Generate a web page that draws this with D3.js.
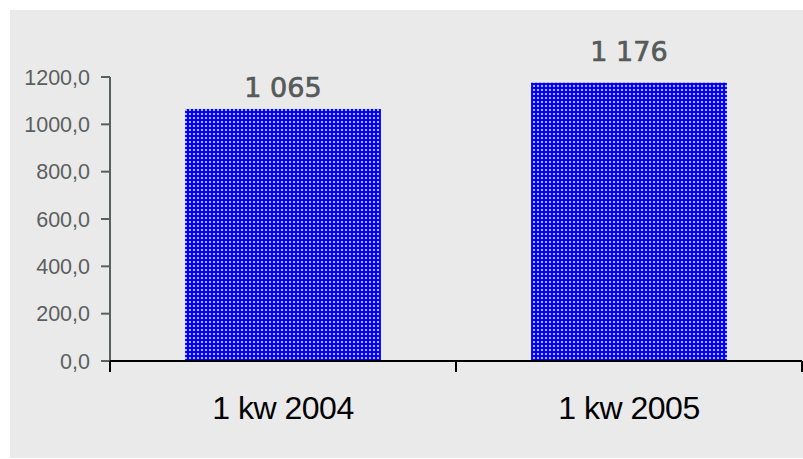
<!DOCTYPE html>
<html><head><meta charset="utf-8">
<script src="https://cdn.jsdelivr.net/npm/d3@7"></script>
<style>body{margin:0;background:#fff}svg{display:block}</style>
</head><body>
<svg id="c" width="803" height="459"></svg>
<script>
const categories = ["1 kw 2004", "1 kw 2005"];
const values = [1065, 1176];
const yTicks = [0, 200, 400, 600, 800, 1000, 1200];

const svg = d3.select("#c");
const defs = svg.append("defs");
const pat = defs.append("pattern").attr("id","dots").attr("width",4).attr("height",4).attr("patternUnits","userSpaceOnUse");
pat.append("rect").attr("width",4).attr("height",4).attr("fill","#0000ff");
pat.append("rect").attr("x",1).attr("y",1).attr("width",2).attr("height",2).attr("fill","#ffffff").attr("opacity",0.7);

svg.append("rect").attr("x",10).attr("y",10).attr("width",793).attr("height",448).attr("fill","#eaeaea");

const y = d3.scaleLinear().domain([0,1200]).range([361,77]);
const x = d3.scaleBand().domain(categories).range([110,802]).padding(0);
const barFrac = 0.566;

const locale = d3.formatLocale({decimal:",", thousands:" ", grouping:[3], currency:["",""]});
const fmtVal = locale.format(",d");
const fmtTick = locale.format(".1f");

// bars
svg.selectAll("rect.bar").data(values).join("rect").attr("class","bar")
  .attr("x",(d,i)=>x(categories[i]) + x.bandwidth()*(1-barFrac)/2)
  .attr("width",x.bandwidth()*barFrac)
  .attr("y",d=>y(d)).attr("height",d=>y(0)-y(d))
  .attr("fill","url(#dots)");

// y axis
const gy = svg.append("g");
gy.append("line").attr("x1",110).attr("x2",110).attr("y1",y(1200)).attr("y2",y(0)).attr("stroke","#5a5f5f").attr("stroke-width",2);
yTicks.forEach(t=>{
  gy.append("line").attr("x1",101).attr("x2",110).attr("y1",y(t)).attr("y2",y(t)).attr("stroke","#5a5f5f").attr("stroke-width",2);
  gy.append("text").attr("x",90).attr("y",y(t)).attr("dy","0.36em").attr("text-anchor","end")
    .attr("font-family","Liberation Sans, Arial, sans-serif").attr("font-size",21.5).attr("fill","#5a5f5f")
    .text(fmtTick(t));
});

// x axis
const gx = svg.append("g");
gx.append("line").attr("x1",110).attr("x2",802).attr("y1",y(0)).attr("y2",y(0)).attr("stroke","#000").attr("stroke-width",2);
const bounds = categories.map(c=>x(c)).concat([x(categories[categories.length-1])+x.bandwidth()]);
bounds.forEach(b=>{
  gx.append("line").attr("x1",b).attr("x2",b).attr("y1",y(0)).attr("y2",y(0)+11).attr("stroke","#000").attr("stroke-width",2);
});
categories.forEach(c=>{
  gx.append("text").attr("x",x(c)+x.bandwidth()/2).attr("y",419).attr("text-anchor","middle")
    .attr("font-family","Liberation Sans, Arial, sans-serif").attr("font-size",32).attr("fill","#000")
    .attr("letter-spacing","-0.5")
    .text(c);
});

// value labels
const labelGap = [12, 22];
values.forEach((v,i)=>{
  svg.append("text").attr("x",x(categories[i])+x.bandwidth()/2).attr("y",y(v)-labelGap[i])
    .attr("text-anchor","middle").attr("font-family","DejaVu Sans, sans-serif").attr("font-size",27)
    .attr("fill","#555a5a").attr("stroke","#555a5a").attr("stroke-width",0.7).text(fmtVal(v));
});
</script>
</body></html>
